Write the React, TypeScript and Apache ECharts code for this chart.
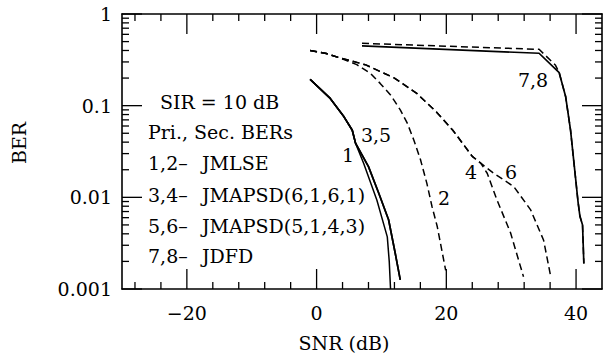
import React, { useEffect, useRef } from "react";
import * as echarts from "echarts";

// ---- axis ticks ----
const xMajorTicks = [-20, 0, 20, 40];
const xMinorTicks = [-28, -24, -16, -12, -8, -4, 4, 8, 12, 16, 24, 28, 32, 36];
const yMajorTicks = [0.001, 0.01, 0.1, 1];
const yTickLabels = ["0.001", "0.01", "0.1", "1"];
const yMinorTicks = [
  0.002, 0.003, 0.004, 0.005, 0.006, 0.007, 0.008, 0.009,
  0.02, 0.03, 0.04, 0.05, 0.06, 0.07, 0.08, 0.09,
  0.2, 0.3, 0.4, 0.5, 0.6, 0.7, 0.8, 0.9,
];

// ---- curves [SNR dB, BER] ----
const curve1 = [
  [-1, 0.194], [2.1, 0.12], [4.2, 0.076], [5.5, 0.054], [6.0, 0.039],
  [7.25, 0.0235], [9.3, 0.0093], [10.9, 0.0037], [11.2, 0.002], [11.4, 0.001],
];
const curve3 = [
  [-1, 0.194], [2.1, 0.12], [4.2, 0.076], [5.5, 0.054], [6.0, 0.039],
  [8.0, 0.0216], [9.6, 0.011], [11.1, 0.0057], [12.1, 0.0025], [12.9, 0.00126],
];
const curve5 = [
  [-1, 0.194], [2.1, 0.12], [4.2, 0.076], [5.5, 0.054], [6.0, 0.039],
  [8.0, 0.0216], [9.6, 0.011], [11.1, 0.0057], [12.1, 0.0025], [12.9, 0.00126],
];
const curve2 = [
  [-1, 0.4], [1.5, 0.37], [3.7, 0.33], [6.2, 0.28], [8.3, 0.225], [9.8, 0.175],
  [11.4, 0.131], [12.9, 0.09], [14, 0.064], [15, 0.042], [16, 0.026], [17, 0.0142],
  [17.8, 0.0079], [18.6, 0.0048], [19.9, 0.0016],
];
const curve4 = [
  [-1, 0.4], [1.5, 0.37], [3.7, 0.33], [7.5, 0.28], [12, 0.2], [15.5, 0.135],
  [18.5, 0.085], [21, 0.054], [24, 0.028], [25.3, 0.0236], [26.3, 0.0183],
  [27.8, 0.0094], [29.9, 0.0041], [31.9, 0.00136],
];
const curve6 = [
  [-1, 0.4], [1.5, 0.37], [3.7, 0.33], [7.5, 0.28], [12, 0.2], [15.5, 0.135],
  [18.5, 0.085], [21, 0.054], [24, 0.028], [25.3, 0.0236], [27.3, 0.0183],
  [30.4, 0.0131], [33.0, 0.0073], [35.0, 0.0034], [36.1, 0.00136],
];
const curve7 = [
  [7, 0.448], [34.3, 0.373], [37.4, 0.229], [38.4, 0.125], [39.15, 0.054],
  [39.9, 0.0168], [40.3, 0.009], [40.6, 0.0062], [41.0, 0.005], [41.2, 0.0019],
];
const curve8 = [
  [7, 0.479], [34.3, 0.412], [36.8, 0.278], [37.4, 0.229], [38.4, 0.125],
  [39.15, 0.054], [39.9, 0.0168], [40.3, 0.009], [40.6, 0.0062], [41.0, 0.005],
  [41.2, 0.0019],
];

// ---- texts ----
const legendTitle = "SIR = 10 dB";
const legendSub = "Pri., Sec. BERs";
const legendKeys = ["1,2\u2013", "3,4\u2013", "5,6\u2013", "7,8\u2013"];
const legendNames = ["JMLSE", "JMAPSD(6,1,6,1)", "JMAPSD(5,1,4,3)", "JDFD"];

const FONT = "DejaVu Serif";
const X_MIN = -30;
const X_MAX = 44;
const Y_MIN = 0.001;
const Y_MAX = 1;
const W = 604;
const H = 362;
const GRID = { left: 122, right: 2, top: 14, bottom: 73 };

export default function App() {
  const mainRef = useRef<HTMLDivElement>(null);
  const tickRef = useRef<HTMLDivElement>(null);
  useEffect(() => {
    if (!mainRef.current || !tickRef.current) return;

    // ================= main chart =================
    const chart = echarts.init(mainRef.current, null, { renderer: "svg" });
    const axisLine = { show: true, onZero: false, lineStyle: { color: "#000", width: 1.6 } };
    const xBase = { type: "value", min: X_MIN, max: X_MAX, splitLine: { show: false }, axisLine, axisTick: { show: false } };
    const yBase = { type: "log", logBase: 10, min: Y_MIN, max: Y_MAX, splitLine: { show: false }, axisLine, axisTick: { show: false } };

    const curves: any[] = [
      { d: curve1, w: 1.5, dash: "solid" },
      { d: curve3, w: 1.7, dash: "solid" },
      { d: curve5, w: 1.7, dash: "solid" },
      { d: curve2, w: 1.5, dash: [7, 4] },
      { d: curve4, w: 1.5, dash: [7, 4] },
      { d: curve6, w: 1.5, dash: [7, 4] },
      { d: curve7, w: 1.7, dash: "solid" },
      { d: curve8, w: 1.5, dash: [7, 4] },
    ].map((s) => ({
      type: "line",
      data: s.d,
      symbol: "none",
      lineStyle: { color: "#000", width: s.w, type: s.dash },
    }));

    const g: any[] = [];
    const txt = (text: string, x: number, y: number, align = "left", rotation = 0) => {
      g.push({
        type: "text",
        x,
        y,
        rotation,
        style: {
          text,
          fill: "#000",
          fontFamily: FONT,
          fontSize: 19,
          textAlign: align,
          textVerticalAlign: "middle",
        },
      });
    };
    const rowY = [163, 195, 226, 256];
    txt(legendTitle, 160, 102);
    txt(legendSub, 148, 132);
    legendKeys.forEach((k, i) => txt(k, 148, rowY[i]));
    legendNames.forEach((n, i) => txt(n, 202, rowY[i]));
    txt("3,5", 376, 135, "center");
    txt("1", 348, 155, "center");
    txt("2", 444, 198, "center");
    txt("4", 471, 172, "center");
    txt("6", 511, 172, "center");
    txt("7,8", 533, 80, "center");
    txt("SNR (dB)", 344, 343, "center");
    txt("BER", 19, 143, "center", Math.PI / 2);

    chart.setOption({
      animation: false,
      backgroundColor: "#fff",
      grid: { ...GRID, containLabel: false },
      xAxis: [
        {
          ...xBase, position: "bottom",
          axisLabel: {
            show: true, customValues: xMajorTicks, margin: 14, color: "#000",
            fontFamily: FONT, fontSize: 19,
            formatter: (v: number) => (v < 0 ? "\u2212" + Math.abs(v) : String(v)),
          },
        },
        { ...xBase, position: "top", axisLabel: { show: false } },
      ],
      yAxis: [
        {
          ...yBase, position: "left",
          axisLabel: {
            show: true, customValues: yMajorTicks, margin: 10, color: "#000",
            fontFamily: FONT, fontSize: 19,
            formatter: (v: number) => {
              const i = yMajorTicks.findIndex((t) => Math.abs(Math.log10(t) - Math.log10(v)) < 1e-6);
              return i >= 0 ? yTickLabels[i] : "";
            },
          },
        },
        { ...yBase, position: "right", axisLabel: { show: false } },
      ],
      series: curves,
      graphic: g,
    } as any);

    // ================= tick layer (same grid and scales) =================
    const tc = echarts.init(tickRef.current, null, { renderer: "svg" });
    tc.setOption({
      animation: false,
      grid: { ...GRID },
      xAxis: [{ type: "value", min: X_MIN, max: X_MAX, axisLine: { show: false }, axisTick: { show: false }, axisLabel: { show: false }, splitLine: { show: false } }],
      yAxis: [{ type: "log", min: Y_MIN, max: Y_MAX, axisLine: { show: false }, axisTick: { show: false }, axisLabel: { show: false }, splitLine: { show: false } }],
      series: [{ type: "line", data: [[0, 0.1]], symbol: "none", lineStyle: { width: 0, opacity: 0 } }],
    } as any);
    const px = (x: number, y: number): any => tc.convertToPixel({ xAxisIndex: 0, yAxisIndex: 0 } as any, [x, y]);
    const lb = px(X_MIN, Y_MIN);
    const rt = px(X_MAX, Y_MAX);
    const ticks: any[] = [];
    const line = (x1: number, y1: number, x2: number, y2: number) =>
      ticks.push({ type: "line", shape: { x1, y1, x2, y2 }, style: { stroke: "#000", lineWidth: 1.3 } });
    const xT = (vals: number[], len: number) =>
      vals.forEach((v) => {
        const q = px(v, 0.5);
        line(q[0], lb[1], q[0], lb[1] - len);
        line(q[0], rt[1], q[0], rt[1] + len);
      });
    const yT = (vals: number[], len: number) =>
      vals.forEach((v) => {
        const q = px(0, v);
        line(lb[0], q[1], lb[0] + len, q[1]);
        line(rt[0], q[1], rt[0] - len, q[1]);
      });
    xT(xMajorTicks, 20);
    xT(xMinorTicks, 7);
    yT(yMajorTicks, 20);
    yT(yMinorTicks, 7);
    tc.setOption({ graphic: ticks } as any);

    return () => {
      chart.dispose();
      tc.dispose();
    };
  }, []);
  return (
    <div style={{ position: "fixed", left: 0, top: 0, width: W, height: H, background: "#fff" }}>
      <div ref={mainRef} style={{ position: "absolute", left: 0, top: 0, width: W, height: H }} />
      <div ref={tickRef} style={{ position: "absolute", left: 0, top: 0, width: W, height: H, pointerEvents: "none" }} />
    </div>
  );
}
